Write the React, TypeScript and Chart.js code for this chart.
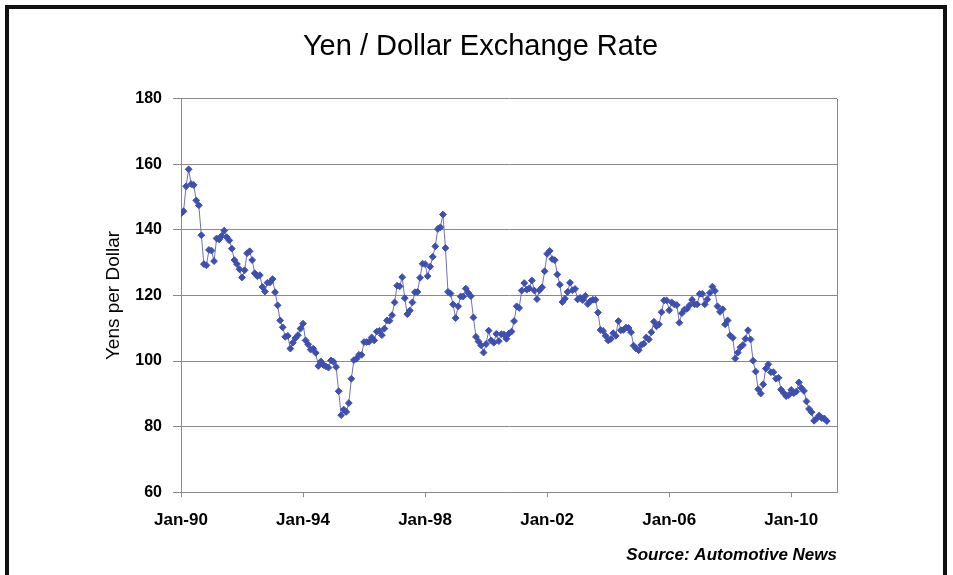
import React, { useEffect, useRef } from 'react';
import { Chart, registerables } from 'chart.js';

Chart.register(...registerables);

// Monthly yen per dollar, Jan-1990 onward
const r1990 = [145.0, 145.7, 153.3, 158.5, 154.0, 153.7, 149.0, 147.5, 138.4, 129.6, 129.2, 133.9];
const r1991 = [133.7, 130.5, 137.4, 137.1, 138.2, 139.8, 137.8, 136.8, 134.3, 130.8, 129.6, 128.0];
const r1992 = [125.5, 127.7, 132.9, 133.5, 130.8, 126.8, 125.9, 126.2, 122.6, 121.2, 123.9, 124.0];
const r1993 = [125.0, 121.0, 117.0, 112.4, 110.3, 107.4, 107.7, 103.8, 105.6, 107.0, 107.9, 109.9];
const r1994 = [111.4, 106.3, 105.1, 103.5, 103.8, 102.5, 98.5, 99.9, 98.8, 98.4, 98.0, 100.2];
const r1995 = [99.8, 98.2, 90.8, 83.5, 85.2, 84.5, 87.2, 94.6, 100.3, 100.7, 101.9, 101.9];
const r1996 = [105.8, 105.8, 105.9, 107.2, 106.3, 109.0, 109.2, 107.9, 109.9, 112.4, 112.3, 114.0];
const r1997 = [117.9, 123.0, 122.8, 125.6, 119.2, 114.3, 115.4, 117.9, 121.0, 121.1, 125.4, 129.7];
const r1998 = [129.6, 125.9, 128.8, 131.8, 135.0, 140.3, 140.8, 144.7, 134.5, 121.1, 120.6, 117.3];
const r1999 = [113.1, 116.7, 119.7, 119.7, 122.1, 120.8, 119.8, 113.3, 107.4, 106.0, 104.8, 102.6];
const r2000 = [105.2, 109.3, 106.3, 105.6, 108.3, 106.1, 108.2, 108.1, 106.8, 108.4, 109.0, 112.2];
const r2001 = [116.7, 116.2, 121.5, 123.8, 121.8, 122.2, 124.6, 121.5, 118.9, 121.6, 122.5, 127.4];
const r2002 = [132.7, 133.6, 131.1, 130.8, 126.4, 123.3, 118.0, 119.0, 121.1, 123.9, 121.6, 122.0];
const r2003 = [118.8, 119.3, 118.6, 119.9, 117.4, 118.3, 118.7, 118.7, 114.8, 109.5, 109.2, 107.7];
const r2004 = [106.3, 106.7, 108.5, 107.7, 112.2, 109.4, 109.5, 110.2, 110.1, 108.8, 104.7, 103.8];
const r2005 = [103.3, 104.9, 105.3, 107.2, 106.6, 108.8, 112.0, 110.6, 111.2, 114.9, 118.5, 118.5];
const r2006 = [115.5, 117.9, 117.3, 117.1, 111.7, 114.6, 115.7, 115.9, 117.0, 118.7, 117.3, 117.3];
const r2007 = [120.5, 120.5, 117.3, 118.8, 120.8, 122.7, 121.4, 116.7, 115.0, 115.8, 111.2, 112.4];
const r2008 = [107.8, 107.1, 100.8, 102.6, 104.2, 104.9, 106.8, 109.4, 106.6, 100.1, 96.8, 91.4];
const r2009 = [90.1, 92.9, 97.7, 99.0, 96.6, 96.6, 94.6, 94.9, 91.3, 90.3, 89.3, 89.6];
const r2010 = [91.2, 90.2, 90.7, 93.5, 91.8, 90.9, 87.7, 85.4, 84.4, 81.8, 82.5, 83.4];
const r2011 = [82.6, 82.5, 81.7];

const yearlyRates = [
  r1990, r1991, r1992, r1993, r1994, r1995, r1996, r1997, r1998, r1999, r2000,
  r2001, r2002, r2003, r2004, r2005, r2006, r2007, r2008, r2009, r2010, r2011,
];

// x axis: months counted from Jan-90
const xTickMonths = [0, 48, 96, 144, 192, 240];
const xTickLabels = ['Jan-90', 'Jan-94', 'Jan-98', 'Jan-02', 'Jan-06', 'Jan-10'];
const xAxisMaxMonth = 258;

const yMin = 60;
const yMax = 180;
const yStep = 20;

const titleText = 'Yen / Dollar Exchange Rate';
const yAxisTitle = 'Yens per Dollar';
const sourceText = 'Source: Automotive News';

const FONT = '"Liberation Sans", Arial, Helvetica, sans-serif';
const GRID = '#8a8a8a';

const plotFrame = {
  id: 'plotFrame',
  afterLayout(chart: any) {
    const t = chart.titleBlock;
    if (t) {
      t.left += 13;
      t.right += 13;
    }
  },
  beforeDatasetsDraw(chart: any) {
    const { ctx, chartArea } = chart;
    const x = Math.round(chartArea.right) + 0.5;
    ctx.save();
    ctx.strokeStyle = GRID;
    ctx.lineWidth = 1;
    ctx.beginPath();
    ctx.moveTo(x, Math.round(chartArea.top));
    ctx.lineTo(x, Math.round(chartArea.bottom) + 1);
    ctx.stroke();
    ctx.restore();
  },
};

export default function App() {
  const ref = useRef<HTMLCanvasElement>(null);

  useEffect(() => {
    const points: { x: number; y: number }[] = [];
    let m = 0;
    yearlyRates.forEach((yr) => {
      yr.forEach((v) => {
        points.push({ x: m, y: v });
        m += 1;
      });
    });

    const chart = new Chart(ref.current as HTMLCanvasElement, {
      type: 'line',
      data: {
        datasets: [
          {
            data: points,
            borderColor: '#7070b8',
            borderWidth: 1,
            pointStyle: 'rectRot',
            pointRadius: 3.4,
            pointBorderWidth: 1,
            pointBackgroundColor: '#3d50b0',
            pointBorderColor: '#3d50b0',
            tension: 0,
          },
        ],
      },
      options: {
        responsive: false,
        animation: false,
        devicePixelRatio: 1,
        layout: { padding: { left: 98, right: 116, top: 0, bottom: 0 } },
        plugins: {
          legend: { display: false },
          tooltip: { enabled: false },
          title: {
            display: true,
            text: titleText,
            color: '#000',
            font: { family: FONT, size: 29, weight: 'normal' },
            padding: { top: 30, bottom: 34 },
          },
          subtitle: {
            display: true,
            position: 'bottom',
            align: 'end',
            text: sourceText,
            color: '#000',
            font: { family: FONT, size: 17, weight: 'bold', style: 'italic' },
            padding: { top: 2, bottom: 9 },
          },
        },
        scales: {
          x: {
            type: 'linear',
            min: 0,
            max: xAxisMaxMonth,
            afterBuildTicks: (s: any) => {
              s.ticks = xTickMonths.map((v) => ({ value: v }));
            },
            ticks: {
              autoSkip: false,
              maxRotation: 0,
              padding: 13,
              color: '#000',
              font: { family: FONT, size: 17, weight: 'bold' },
              callback: (v: any) => {
                const i = xTickMonths.indexOf(Number(v));
                return i >= 0 ? xTickLabels[i] : '';
              },
            },
            grid: { drawOnChartArea: false, drawTicks: true, tickLength: 5, color: GRID },
            border: { color: GRID, width: 1 },
          },
          y: {
            min: yMin,
            max: yMax,
            afterFit: (s: any) => {
              s.width = 83;
            },
            ticks: {
              stepSize: yStep,
              padding: 11,
              color: '#000',
              font: { family: FONT, size: 16, weight: 'bold' },
            },
            grid: { color: GRID, tickLength: 8 },
            border: { color: GRID, width: 1 },
            title: {
              display: true,
              text: yAxisTitle,
              color: '#000',
              font: { family: FONT, size: 19, weight: 'normal' },
              padding: { top: 4, bottom: 4 },
            },
          },
        },
      },
      plugins: [plotFrame],
    });
    return () => chart.destroy();
  }, []);

  return (
    <div
      style={{
        position: 'fixed',
        left: 0,
        top: 0,
        width: 953,
        height: 575,
        background: '#fff',
        overflow: 'hidden',
      }}
    >
      <canvas ref={ref} width={953} height={575} style={{ position: 'absolute', left: 0, top: 0 }} />
      <div
        style={{
          position: 'absolute',
          left: 5,
          top: 5,
          width: 934,
          height: 620,
          border: '4px solid #111',
          pointerEvents: 'none',
        }}
      />
    </div>
  );
}
